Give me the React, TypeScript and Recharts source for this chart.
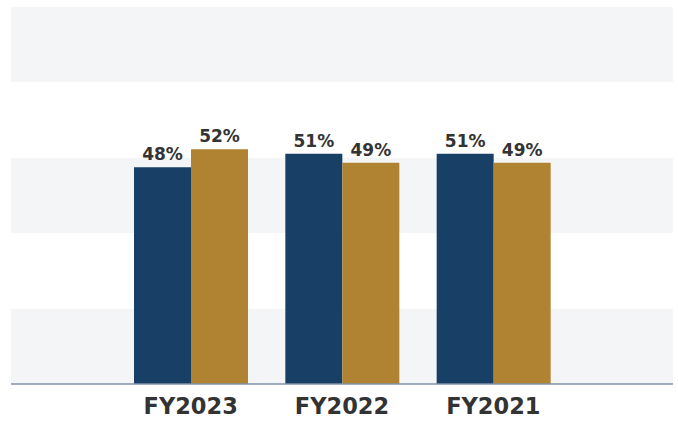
import React from 'react';
import { BarChart, Bar, XAxis, YAxis, CartesianGrid, LabelList } from 'recharts';

const categories = ['FY2023', 'FY2022', 'FY2021'];
const seriesA = [48, 51, 51];
const seriesB = [52, 49, 49];
const yTicks = [0, 16.7, 33.4, 50.1, 66.8, 83.5];

const data = categories.map((c, i) => ({ name: c, a: seriesA[i], b: seriesB[i] }));

const FONT = '"DejaVu Sans", sans-serif';
const pct = (v: any) => `${v}%`;

export default function App() {
  return (
    <div style={{ position: 'absolute', left: 0, top: 0, width: 678, height: 421, background: '#fff' }}>
      <BarChart
        width={678}
        height={421}
        data={data}
        margin={{ top: 7, right: 5, bottom: 7, left: 11 }}
        barGap={0}
      >
        <CartesianGrid
          vertical={false}
          stroke="transparent"
          horizontalFill={['#f4f5f7', '#ffffff']}
        />
        <YAxis hide domain={[0, 83.5]} ticks={yTicks} />
        <XAxis
          dataKey="name"
          height={30}
          padding={{ left: 104, right: 104 }}
          tickLine={false}
          axisLine={{ stroke: '#7f93a8', strokeWidth: 1.5 }}
          tickMargin={8}
          tick={{ fontSize: 22.5, fontWeight: 700, fill: '#333333', fontFamily: FONT }}
        />
        <Bar dataKey="a" fill="#183f66" barSize={57} isAnimationActive={false}>
          <LabelList
            dataKey="a"
            position="top"
            offset={7}
            formatter={pct}
            style={{ fontSize: 17, fontWeight: 700, fill: '#333333', fontFamily: FONT }}
          />
        </Bar>
        <Bar dataKey="b" fill="#b08332" barSize={57} isAnimationActive={false}>
          <LabelList
            dataKey="b"
            position="top"
            offset={7}
            formatter={pct}
            style={{ fontSize: 17, fontWeight: 700, fill: '#333333', fontFamily: FONT }}
          />
        </Bar>
      </BarChart>
    </div>
  );
}
